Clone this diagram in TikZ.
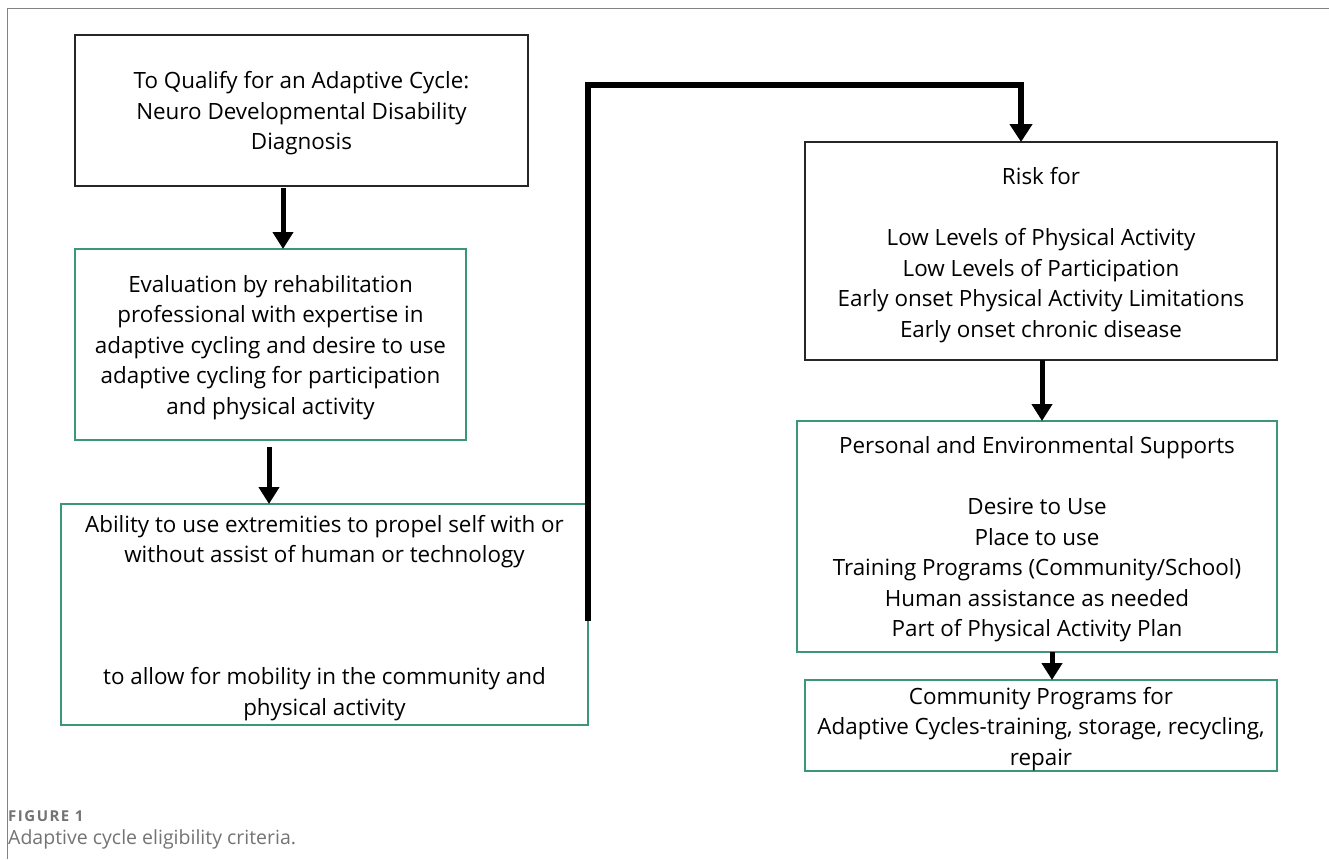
\documentclass[tikz,border=0pt]{standalone}
\usepackage{fontspec}
\setmainfont{Open Sans}
\newfontfamily\capfont{Open Sans}
\newfontfamily\capbold[LetterSpace=10]{Open Sans}
\usetikzlibrary{arrows.meta}
\definecolor{boxgreen}{RGB}{60,150,120}
\definecolor{capgray}{RGB}{115,115,115}
\definecolor{framegray}{RGB}{130,130,130}
\tikzset{
  blackbox/.style={draw=black!85, line width=1.2pt, inner sep=0pt, outer sep=0pt},
  greenbox/.style={draw=boxgreen, line width=1.2pt, inner sep=0pt, outer sep=0pt},
  txt/.style={inner sep=0pt, align=center, font=\fontsize{22.4}{30.5}\selectfont},
  arr/.style={line width=5pt, -{Triangle[width=20pt,length=17pt]}},
  bigarr/.style={line width=6pt, -{Triangle[width=22pt,length=18pt]}},
}
\begin{document}
\begin{tikzpicture}[x=1pt,y=-1pt]
\useasboundingbox (0,0) rectangle (1329,859);
\draw[framegray, line width=1pt] (7,859) -- (7,9) -- (1329,9);
\node[blackbox, minimum width=453pt, minimum height=151pt] (b1) at (301.5,110.5) {};
\node[txt] (t1) at ([yshift=-3pt]b1.center)
  {To Qualify for an Adaptive Cycle:\\Neuro Developmental Disability\\Diagnosis};
\node[greenbox, minimum width=391pt, minimum height=191pt] (b2) at (270.5,344.5) {};
\node[txt] (t2) at ([yshift=-3pt]b2.center)
  {Evaluation by rehabilitation\\professional with expertise in\\adaptive cycling and desire to use\\adaptive cycling for participation\\and physical activity};
\node[greenbox, minimum width=527pt, minimum height=221pt] (b3) at (324.5,614.5) {};
\node[txt] (t3) at ([yshift=-3.5pt]b3.center)
  {Ability to use extremities to propel self with or\\without assist of human or technology\\[91.5pt]to allow for mobility in the community and\\physical activity};
\node[blackbox, minimum width=472pt, minimum height=218pt] (b4) at (1041,251) {};
\node[txt] (t4) at ([yshift=-4pt]b4.center)
  {Risk for\\[30.5pt]Low Levels of Physical Activity\\Low Levels of Participation\\Early onset Physical Activity Limitations\\Early onset chronic disease};
\node[greenbox, minimum width=480pt, minimum height=231pt] (b5) at (1037,536.5) {};
\node[txt] (t5) at ([yshift=-3pt]b5.center)
  {Personal and Environmental Supports\\[30.5pt]Desire to Use\\Place to use\\Training Programs (Community/School)\\Human assistance as needed\\Part of Physical Activity Plan};
\node[greenbox, minimum width=472pt, minimum height=91pt] (b6) at (1041,725.5) {};
\node[txt] (t6) at ([yshift=-3.5pt]b6.center)
  {Community Programs for\\Adaptive Cycles-training, storage, recycling,\\repair};
\draw[arr] ([yshift=-2pt]283,0 |- b1.south) -- (283,0 |- b2.north);
\draw[arr] ([yshift=-7pt]269,0 |- b2.south) -- (269,0 |- b3.north);
\draw[arr] (1042,0 |- b4.south) -- (1042,0 |- b5.north);
\draw[arr] (1052,0 |- b5.south) -- (1052,0 |- b6.north);
\coordinate (s) at (b3.east |- 0,621);
\draw[bigarr] (s) -- (588,85) -- (1021,85) -- (1021,0 |- b4.north);
\node[anchor=west, inner sep=0pt, text=capgray, font=\capbold\bfseries\fontsize{15}{16}\selectfont] (f1) at (8,816) {FIGURE 1};
\node[anchor=west, inner sep=0pt, text=capgray, font=\capfont\fontsize{19.5}{22}\selectfont] (f2) at (8,839) {Adaptive cycle eligibility criteria.};
\end{tikzpicture}
\end{document}
